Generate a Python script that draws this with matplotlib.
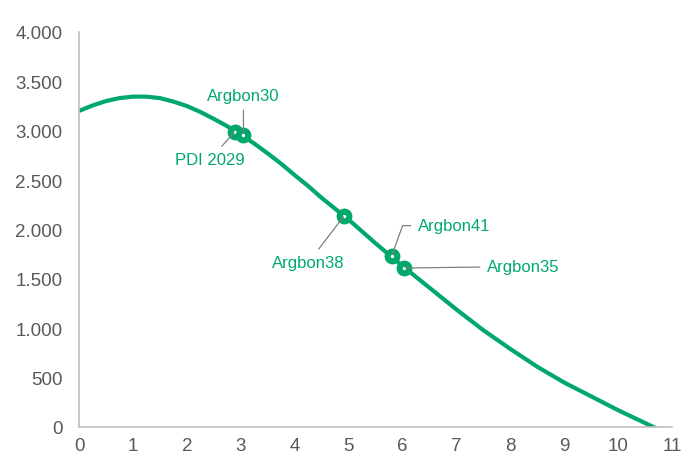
import numpy as np
import matplotlib
matplotlib.use("Agg")
import matplotlib.pyplot as plt
from matplotlib.ticker import FuncFormatter, MultipleLocator

# curve values
curve_x = [0, 0.25, 0.5, 0.75, 1, 1.25, 1.5, 1.75, 2, 2.25, 2.5, 2.75, 3, 3.25, 3.5, 3.75,
           4, 4.25, 4.5, 4.75, 5, 5.25, 5.5, 5.75, 6, 6.25, 6.5, 6.75, 7, 7.25, 7.5, 7.75,
           8, 8.25, 8.5, 8.75, 9, 9.25, 9.5, 9.75, 10, 10.25, 10.5, 10.75]
curve_y = [3200, 3255, 3300, 3330, 3345, 3345, 3330, 3295, 3250, 3190, 3120, 3045, 2960, 2870, 2770, 2665,
           2550, 2440, 2320, 2210, 2100, 1980, 1860, 1745, 1630, 1520, 1410, 1300, 1190, 1085, 980, 885,
           790, 700, 610, 530, 450, 380, 310, 240, 170, 105, 40, -25]

# labelled products
names = ["PDI 2029", "Argbon30", "Argbon38", "Argbon41", "Argbon35"]
px = [2.89, 3.05, 4.92, 5.80, 6.02]
py = [2990, 2960, 2140, 1735, 1610]

green = "#00A96B"
grey = "#595959"

plt.rcParams["font.family"] = ["Liberation Sans", "DejaVu Sans"]

fig = plt.figure(figsize=(6.9, 4.64), dpi=100)
ax = fig.add_axes([0.1145, 0.0776, 0.8595, 0.8514])

ax.plot(curve_x, curve_y, color=green, lw=3, solid_capstyle="butt",
        solid_joinstyle="round", zorder=2)
ax.plot(px, py, ls="none", marker="o", ms=7, mew=4.4,
        mec=green, mfc="white", zorder=3)

# label placement (pixel offsets from each marker) and leader style
offsets = {
    "PDI 2029": ((-25, -28), "center", None),
    "Argbon30": ((0, 39), "center", None),
    "Argbon38": ((-36, -47), "center", None),
    "Argbon41": ((26, 30), "left", "angle,angleA=0,angleB=70,rad=0"),
    "Argbon35": ((83, 1), "left", None),
}
for n, x, y in zip(names, px, py):
    off, ha, conn = offsets[n]
    props = dict(arrowstyle="-", color="#7f7f7f", lw=0.9, shrinkA=3, shrinkB=1)
    if conn:
        props["connectionstyle"] = conn
        props["relpos"] = (0, 0.5)
    elif ha == "left":
        props["relpos"] = (0, 0.5)
    ax.annotate(n, xy=(x, y), xytext=off, textcoords="offset pixels",
                ha=ha, va="center", fontsize=12, color=green,
                arrowprops=props, zorder=4)

ax.set_xlim(0, 11)
ax.set_ylim(0, 4000)
ax.xaxis.set_major_locator(MultipleLocator(1))
ax.yaxis.set_major_locator(MultipleLocator(500))
ax.yaxis.set_major_formatter(FuncFormatter(lambda v, p: f"{int(v):,}".replace(",", ".")))

for s in ["top", "right"]:
    ax.spines[s].set_visible(False)
for s in ["left", "bottom"]:
    ax.spines[s].set_color("#BFBFBF")
    ax.spines[s].set_linewidth(1.2)
ax.tick_params(axis="both", length=0, labelsize=13.5, labelcolor=grey)
ax.tick_params(axis="y", pad=12)
ax.tick_params(axis="x", pad=7)

fig.savefig("out.png", dpi=100)
